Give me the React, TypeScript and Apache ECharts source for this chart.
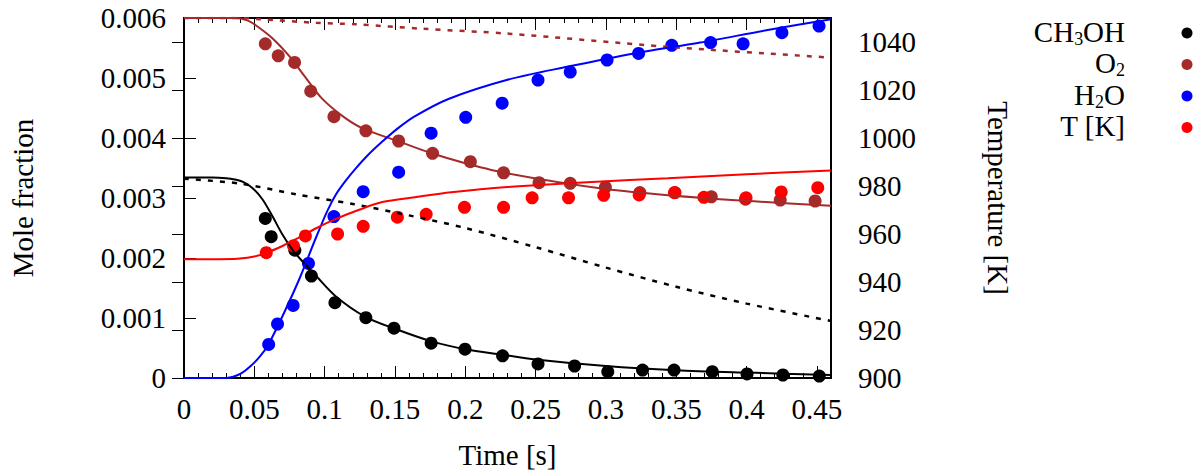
import { useEffect, useRef } from "react";
import * as echarts from "echarts";

const FONT = "Liberation Serif";

const BLACK = "#000000";
const BROWN = "#a52a2a";
const BLUE = "#0000ff";
const RED = "#ff0000";

const timeTicks = [0, 0.05, 0.1, 0.15, 0.2, 0.25, 0.3, 0.35, 0.4, 0.45];

// measured points [time s, value]
const ch3ohPoints: [number, number][] = [
  [0.0578, 0.00266], [0.062, 0.002355], [0.0788, 0.00213], [0.0906, 0.0017],
  [0.1073, 0.001255], [0.1293, 0.001005], [0.1493, 0.00083], [0.1757, 0.00058],
  [0.1998, 0.00048], [0.2265, 0.00037], [0.2517, 0.000235], [0.2777, 0.0002],
  [0.3013, 0.000105], [0.326, 0.000133], [0.3484, 0.000133], [0.3756, 0.000105],
  [0.4003, 0.000067], [0.4258, 0.00005], [0.4517, 0.000033],
];

const o2Points: [number, number][] = [
  [0.0578, 0.00557], [0.067, 0.00537], [0.0786, 0.00526], [0.0901, 0.00478],
  [0.1066, 0.004355], [0.1293, 0.00412], [0.1526, 0.00395], [0.1767, 0.003745],
  [0.2036, 0.003605], [0.2272, 0.00342], [0.2524, 0.003255], [0.2746, 0.003245],
  [0.2996, 0.00318], [0.3241, 0.00309], [0.3491, 0.00309], [0.3749, 0.00302],
  [0.3992, 0.00298], [0.4239, 0.002965], [0.4487, 0.00295],
];

const h2oPoints: [number, number][] = [
  [0.0602, 0.00056], [0.0665, 0.0009], [0.0776, 0.00121], [0.0885, 0.00191],
  [0.1066, 0.00269], [0.1274, 0.003105], [0.1526, 0.00343], [0.1757, 0.00408],
  [0.2003, 0.004345], [0.2262, 0.00458], [0.2517, 0.004965], [0.2746, 0.0051],
  [0.3008, 0.0053], [0.3232, 0.00541], [0.3468, 0.005545], [0.3744, 0.00559],
  [0.3975, 0.00557], [0.4251, 0.005755], [0.4515, 0.005865],
];

const tempPoints: [number, number][] = [
  [0.0585, 952.2], [0.0778, 955.1], [0.0863, 959.2], [0.1092, 960],
  [0.1274, 963.2], [0.1517, 967], [0.1722, 968.2], [0.1994, 971.1],
  [0.2272, 971.1], [0.2475, 975.1], [0.2734, 975.1], [0.2984, 976.1],
  [0.3236, 976.3], [0.3487, 977.2], [0.3696, 975.3], [0.3996, 975.1],
  [0.4246, 977.5], [0.4506, 979.3],
];

// model curves (solid) and second model (dotted)
const ch3ohSolid: [number, number][] = [
  [0, 0.00334], [0.02, 0.00334], [0.03, 0.00333], [0.036, 0.00331],
  [0.042, 0.00327], [0.049, 0.00316], [0.056, 0.00297], [0.063, 0.00269],
  [0.07, 0.00239], [0.077, 0.00214], [0.084, 0.00195], [0.094, 0.0017],
  [0.108, 0.00136], [0.129, 0.00102], [0.15, 0.00082], [0.176, 0.00061],
  [0.2, 0.00048], [0.226, 0.00039], [0.25, 0.00031], [0.3, 0.0002],
  [0.35, 0.00013], [0.4, 0.00009], [0.46, 0.00005],
];

const ch3ohDotted: [number, number][] = [
  [0, 0.00332], [0.04, 0.00324], [0.08, 0.00306], [0.12, 0.0029],
  [0.16, 0.00271], [0.2, 0.0025], [0.25, 0.00218], [0.3, 0.00184],
  [0.35, 0.00152], [0.4, 0.00124], [0.46, 0.00095],
];

const o2Solid: [number, number][] = [
  [0, 0.006], [0.036, 0.006], [0.045, 0.00596], [0.051, 0.00588],
  [0.063, 0.00566], [0.075, 0.00536], [0.087, 0.00499], [0.098, 0.00466],
  [0.113, 0.00436], [0.127, 0.00416], [0.153, 0.00394], [0.176, 0.003745],
  [0.2, 0.00358], [0.23, 0.00341], [0.297, 0.00316], [0.367, 0.003005],
  [0.46, 0.00287],
];

const o2Dotted: [number, number][] = [
  [0, 0.006], [0.04, 0.006], [0.054, 0.00598], [0.094, 0.00592],
  [0.122, 0.005895], [0.17, 0.00582], [0.23, 0.00574], [0.344, 0.00552],
  [0.46, 0.00534],
];

const h2oSolid: [number, number][] = [
  [0, 0], [0.03, 0], [0.035, 0.00002], [0.041, 0.00008], [0.047, 0.00019],
  [0.054, 0.00036], [0.06, 0.00056], [0.07, 0.00103], [0.082, 0.00165],
  [0.094, 0.00235], [0.102, 0.00279], [0.108, 0.00306], [0.115, 0.00329],
  [0.122, 0.00349], [0.131, 0.00372], [0.141, 0.00394], [0.152, 0.00416],
  [0.164, 0.00436], [0.188, 0.00465], [0.23, 0.00497], [0.273, 0.00519],
  [0.32, 0.00541], [0.367, 0.00559], [0.415, 0.0058], [0.46, 0.00598],
];

const tempSolid: [number, number][] = [
  [0, 949.5], [0.035, 949.6], [0.049, 950.5], [0.058, 952], [0.07, 955],
  [0.082, 958.6], [0.094, 962.4], [0.106, 965.8], [0.125, 970.2],
  [0.141, 973.3], [0.164, 975.3], [0.19, 977.4], [0.23, 979.6],
  [0.29, 981.7], [0.344, 983.2], [0.4, 984.9], [0.46, 986.5],
];

const legendItems = [
  { text: "{n|CH}{s|3}{n|OH}", color: BLACK },
  { text: "{n|O}{s|2}", color: BROWN },
  { text: "{n|H}{s|2}{n|O}", color: BLUE },
  { text: "{n|T [K]}", color: RED },
];

const labelStyle = { fontFamily: FONT, fontSize: 29, color: "#000" };

function fmtTime(v: number) {
  return String(Number(v.toFixed(2)));
}

function fmtFrac(v: number) {
  return v === 0 ? "0" : v.toFixed(3);
}

function fmtTemp(v: number) {
  return String(Math.round(v));
}

export default function App() {
  const ref = useRef<HTMLDivElement | null>(null);

  useEffect(() => {
    document.body.style.margin = "0";
    const el = ref.current;
    if (!el) {
      return;
    }
    const chart = echarts.init(el, null, { renderer: "svg" });

    const tickBase = { show: true, inside: true, lineStyle: { color: "#000", width: 1 } };
    const xMax = 0.46;

    const xAxes = [
      {
        type: "value",
        position: "bottom",
        min: timeTicks[0],
        max: xMax,
        interval: 0.05,
        name: "Time [s]",
        nameLocation: "middle",
        nameGap: 62,
        nameTextStyle: labelStyle,
        axisLine: { show: false },
        axisTick: { ...tickBase, length: 12 },
        axisLabel: { ...labelStyle, margin: 16, showMaxLabel: false, formatter: fmtTime },
        splitLine: { show: false },
      },
      {
        type: "value",
        position: "bottom",
        min: 0,
        max: xMax,
        interval: 0.01,
        axisLine: { show: false },
        axisTick: { ...tickBase, length: 5 },
        axisLabel: { show: false },
        splitLine: { show: false },
      },
      {
        type: "value",
        position: "top",
        min: 0,
        max: xMax,
        interval: 0.05,
        axisLine: { show: false },
        axisTick: { ...tickBase, length: 12 },
        axisLabel: { show: false },
        splitLine: { show: false },
      },
      {
        type: "value",
        position: "top",
        min: 0,
        max: xMax,
        interval: 0.01,
        axisLine: { show: false },
        axisTick: { ...tickBase, length: 5 },
        axisLabel: { show: false },
        splitLine: { show: false },
      },
    ];

    const yAxes = [
      {
        type: "value",
        position: "left",
        min: 0,
        max: 0.006,
        interval: 0.001,
        name: "Mole fraction",
        nameLocation: "middle",
        nameGap: 147,
        nameTextStyle: labelStyle,
        axisLine: { show: false },
        axisTick: { ...tickBase, length: 12 },
        axisLabel: { ...labelStyle, margin: 18, formatter: fmtFrac },
        splitLine: { show: false },
      },
      {
        type: "value",
        position: "right",
        min: 900,
        max: 1050,
        interval: 20,
        name: "Temperature [K]",
        nameLocation: "middle",
        nameRotate: -90,
        nameGap: 152,
        nameTextStyle: labelStyle,
        axisLine: { show: false },
        axisTick: { ...tickBase, length: 12 },
        axisLabel: { ...labelStyle, margin: 27, showMaxLabel: false, formatter: fmtTemp },
        splitLine: { show: false },
      },
    ];

    const scatter = (data: [number, number][], color: string, yAxisIndex = 0) => ({
      type: "scatter",
      data,
      yAxisIndex,
      symbol: "circle",
      symbolSize: 13,
      itemStyle: { color, opacity: 1 },
      silent: true,
    });

    const line = (
      data: [number, number][],
      color: string,
      dotted: boolean,
      yAxisIndex = 0,
    ) => ({
      type: "line",
      data,
      yAxisIndex,
      smooth: 0.3,
      showSymbol: false,
      symbol: "none",
      clip: true,
      lineStyle: {
        color,
        width: dotted ? 2.5 : 2,
        type: dotted ? [5, 7] : "solid",
      },
      silent: true,
    });

    const rich = {
      n: { fontFamily: FONT, fontSize: 29, color: "#000" },
      s: { fontFamily: FONT, fontSize: 18, color: "#000", padding: [14, 0, 0, 0] },
    };

    const graphic: any[] = [];
    legendItems.forEach((item, i) => {
      const y = 31.5 + i * 31.5;
      graphic.push({
        type: "text",
        x: 1125,
        y,
        style: {
          text: item.text,
          rich,
          align: "right",
          verticalAlign: "middle",
          fontFamily: FONT,
          fontSize: 29,
          fill: "#000",
        },
      });
      graphic.push({
        type: "circle",
        shape: { cx: 1187, cy: y + 1.5, r: 5.5 },
        style: { fill: item.color },
      });
    });

    chart.setOption({
      animation: false,
      backgroundColor: "#fff",
      textStyle: { fontFamily: FONT, color: "#000" },
      grid: {
        left: 181,
        right: 369,
        top: 18,
        bottom: 98,
        show: true,
        borderColor: "#000",
        borderWidth: 2,
        backgroundColor: "transparent",
      },
      xAxis: xAxes,
      yAxis: yAxes,
      series: [
        scatter(ch3ohPoints, BLACK),
        scatter(o2Points, BROWN),
        scatter(h2oPoints, BLUE),
        scatter(tempPoints, RED, 1),
        line(ch3ohSolid, BLACK, false),
        line(ch3ohDotted, BLACK, true),
        line(o2Solid, BROWN, false),
        line(o2Dotted, BROWN, true),
        line(h2oSolid, BLUE, false),
        line(tempSolid, RED, false, 1),
      ],
      graphic,
    } as any);

    return () => {
      chart.dispose();
    };
  }, []);

  return <div ref={ref} style={{ width: 1200, height: 476 }} />;
}
